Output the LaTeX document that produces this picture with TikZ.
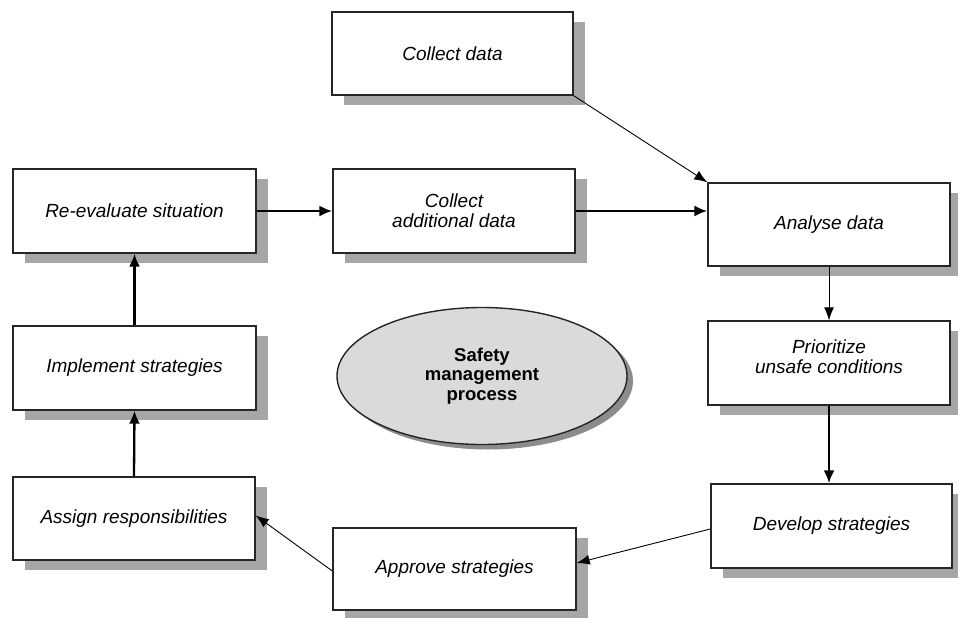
\documentclass[tikz,border=0pt]{standalone}
\usepackage{fontspec}
\setmainfont{Liberation Sans}
\usetikzlibrary{shadows,arrows.meta,shapes.geometric}
\definecolor{shadowgray}{HTML}{A6A6A6}
\definecolor{ellfill}{HTML}{DADADA}
\begin{document}
\begin{tikzpicture}[x=1pt,y=-1pt,
  box/.style={draw=black!85, line width=1.4pt, fill=white, rectangle, align=center,
    font=\fontsize{19}{20}\selectfont\itshape, inner sep=0pt,
    general shadow={fill=shadowgray, shadow xshift=12pt, shadow yshift=-10pt}},
  thickarr/.style={line width=2.3pt, -{Latex[length=13pt,width=11pt]}},
  thinarr/.style={line width=0.9pt, -{Latex[length=13pt,width=10pt]}}
]
\useasboundingbox (0,0) rectangle (958,618);
\node[box, minimum width=241pt, minimum height=83pt] (cd) at (452.5,53.5) {Collect data};
\node[box, minimum width=243pt, minimum height=84pt] (re) at (134.5,211) {Re-evaluate situation};
\node[box, minimum width=242pt, minimum height=84pt] (ca) at (454,211) {Collect\\additional data};
\node[box, minimum width=242pt, minimum height=83pt] (an) at (829,224.5) {Analyse data};
\node[box, minimum width=242pt, minimum height=84pt] (pr) at (829,363) {Prioritize\\unsafe conditions\\[-8pt]};
\node[box, minimum width=243pt, minimum height=84pt] (im) at (134.5,368) {Implement strategies};
\node[box, minimum width=242pt, minimum height=83pt] (as) at (134,518.5) {Assign responsibilities};
\node[box, minimum width=243pt, minimum height=82pt] (ap) at (454.5,569) {Approve strategies};
\node[box, minimum width=241pt, minimum height=84pt] (de) at (831.5,526) {Develop strategies};
\node[ellipse, draw=black!85, line width=1.4pt, fill=ellfill, minimum width=290pt, minimum height=137pt,
  align=center, inner sep=0pt, font=\fontsize{18.5}{19.5}\selectfont\bfseries,
  drop shadow={shadow xshift=6pt, shadow yshift=-5pt, fill=black, opacity=0.45}] (sm) at (482,376)
  {Safety\\management\\process};
\draw[thinarr] (cd.south east) -- (an.north west);
\draw[thickarr] (re.east) -- (ca.west);
\draw[thickarr] (ca.east) -- (ca.east -| an.west);
\draw[thinarr] (an.south) -- (pr.north);
\draw[thickarr] (pr.south) -- (de.north -| pr.south);
\draw[thinarr] ([yshift=-3pt]de.west) -- ([yshift=6pt]ap.east);
\draw[thinarr] ([yshift=-2pt]ap.west) -- ([yshift=3pt]as.east);
\draw[thickarr] (as.north) -- (im.south);
\draw[thickarr] (im.north) -- (re.south);
\end{tikzpicture}
\end{document}
